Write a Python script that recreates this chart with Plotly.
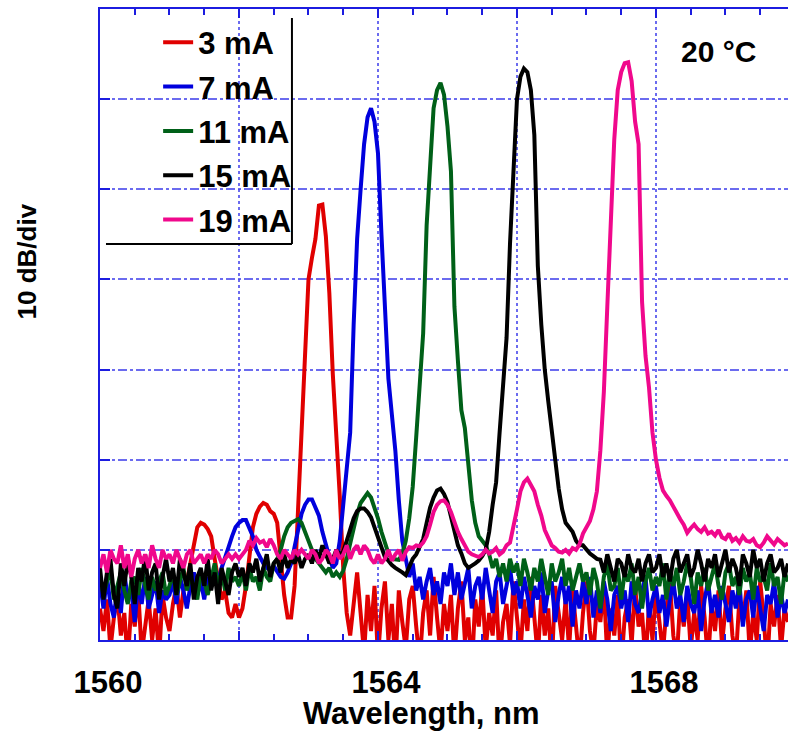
import plotly.graph_objects as go

# ---------------- data ----------------
WL_START = 1560.0
WL_STEP = 0.05
N_POINTS = 199
wavelength = [round(WL_START + WL_STEP * i, 2) for i in range(N_POINTS)]

series_names = ["3 mA", "7 mA", "11 mA", "15 mA", "19 mA"]
series_colors = ["#e00000", "#0000dd", "#006018", "#000000", "#f0088c"]

# relative power, dB (10 dB per grid division)
power_3mA = [
    3.5, 1.0, 4.5, -1.0, 2.5, 5.0, 0.5, 3.0, -2.5, 4.0, 1.5, 5.5, -1.5, 2.0, 4.5, 0.0, 3.5, -2.0, 5.0, 2.5,
    1.0, 4.0, 6.0, 2.5, 5.5, 6.5, 8.5, 11.0, 12.5, 13.0, 12.8, 12.3, 11.5, 9.0, 6.5, 4.5, 5.5, 3.0, 2.5, 4.0,
    2.5, 3.5, 6.0, 9.5, 12.5, 14.0, 14.8, 15.2, 15.0, 14.3, 14.0, 13.0, 9.0, 5.0, 2.5, 2.5, 6.0, 15.0, 24.0, 33.0,
    40.0, 42.4, 44.5, 48.2, 48.3, 44.8, 38.5, 29.5, 23.0, 16.0, 8.0, 3.0, 0.5, 4.5, 7.5, 3.0, -1.5, 5.0, 1.0, 6.0,
    -2.0, 3.5, 6.5, 0.0, 4.0, -3.0, 5.5, 2.0, -1.0, 4.5, 6.0, 1.5, -2.5, 3.0, 5.5, 0.5, 7.0, 2.5, -1.5, 4.0,
    1.0, 5.0, -2.0, 3.5, 6.5, 0.0, 2.5, -3.5, 4.5, 1.5, 6.0, -1.0, 3.0, 0.5, 5.5, -2.5, 2.0, 4.0, -0.5, 6.5,
    2.0, -1.5, 4.5, 1.0, 7.0, 3.0, -2.0, 5.0, 0.5, 3.5, -3.0, 6.0, 2.5, 0.0, 4.5, -1.0, 5.5, 1.5, -2.5, 3.0,
    6.5, 1.0, -1.5, 4.0, 2.0, 6.0, -2.0, 3.5, 0.5, 5.0, -3.0, 2.5, 4.5, -0.5, 6.0, 1.5, 3.0, -2.5, 4.0, 0.0,
    5.5, 2.0, -1.5, 3.5, 6.5, 0.5, -2.0, 4.5, 1.5, 5.0, -1.0, 3.0, 0.0, 6.0, 2.5, -2.5, 4.0, 1.0, 5.5, -0.5,
    3.5, 6.0, 0.5, -2.0, 4.5, 2.0, 5.5, -1.5, 3.0, 0.0, 6.5, 2.5, -3.0, 4.0, 1.5, 5.0, -1.0, 3.5, 2.0,
]

power_7mA = [
    6.5, 3.5, 7.0, 4.0, 2.5, 6.0, 3.0, 7.5, 4.5, 5.5, 2.0, 6.5, 4.0, 7.0, 3.5, 5.0, 6.5, 3.0, 5.5, 4.5,
    5.0, 6.5, 4.0, 7.0, 5.5, 3.5, 6.0, 7.5, 5.0, 6.5, 4.5, 7.0, 6.0, 7.5, 6.5, 8.0, 9.0, 10.3, 11.5, 12.5,
    13.0, 13.3, 13.3, 12.5, 11.5, 10.0, 9.2, 8.5, 8.0, 7.8, 8.2, 7.5, 7.0, 6.8, 7.5, 8.5, 10.3, 12.5, 14.0, 15.0,
    15.6, 15.6, 14.8, 13.8, 12.0, 10.5, 9.2, 8.0, 8.5, 11.0, 15.0, 18.5, 23.0, 35.0, 44.5, 50.0, 55.0, 58.0, 59.0, 57.5,
    54.0, 45.0, 37.0, 29.0, 25.0, 21.0, 15.5, 11.0, 9.0, 7.0, 8.5, 5.5, 7.0, 4.5, 6.5, 8.0, 5.0, 6.5, 4.0, 7.5,
    6.0, 8.5, 5.0, 7.5, 4.5, 6.5, 8.0, 3.5, 6.0, 7.0, 4.5, 8.0, 5.5, 3.0, 6.5, 7.5, 4.0, 6.0, 8.0, 5.0,
    6.5, 3.5, 7.0, 5.0, 2.5, 6.0, 4.5, 7.5, 3.0, 5.5, 6.5, 2.0, 5.0, 7.0, 4.0, 6.0, 1.5, 5.5, 3.5, 6.5,
    4.0, 7.0, 2.5, 5.5, 3.0, 6.5, 4.5, 1.0, 5.0, 6.0, 3.5, 5.5, 2.0, 6.5, 4.0, 3.0, 5.5, 7.0, 2.5, 4.5,
    6.0, 3.0, 5.0, 1.5, 4.5, 6.5, 3.5, 5.0, 2.0, 6.0, 4.0, 3.0, 5.5, 1.0, 4.5, 6.5, 3.0, 5.0, 2.5, 6.0,
    4.0, 2.0, 5.5, 3.5, 6.5, 1.5, 4.5, 5.5, 2.5, 6.0, 3.5, 1.0, 5.0, 4.0, 6.5, 2.5, 5.0, 3.0, 4.5,
]

power_11mA = [
    7.0, 5.0, 6.5, 8.0, 4.5, 6.0, 7.5, 5.5, 4.0, 6.5, 7.0, 5.0, 8.0, 6.0, 4.5, 7.0, 5.5, 6.5, 7.5, 5.0,
    6.0, 7.5, 5.0, 6.5, 8.0, 5.5, 7.0, 6.0, 4.5, 7.5, 6.5, 5.0, 7.0, 8.5, 6.0, 7.5, 5.5, 8.0, 6.5, 7.0,
    6.0, 7.5, 5.5, 8.0, 6.5, 7.0, 5.5, 8.0, 7.0, 6.5, 8.5, 9.0, 10.0, 11.5, 12.5, 13.0, 13.2, 13.4, 13.0, 12.0,
    11.0, 10.3, 9.0, 8.5, 8.0, 7.5, 8.0, 7.0, 7.5, 7.0, 7.7, 9.0, 10.7, 12.5, 14.0, 15.2, 15.8, 16.3, 15.8, 14.8,
    13.5, 12.0, 10.8, 9.6, 9.0, 8.9, 8.9, 9.5, 11.0, 13.5, 17.0, 22.5, 28.0, 34.0, 46.0, 53.5, 59.0, 61.0, 61.8, 60.5,
    57.0, 52.0, 37.0, 31.0, 25.5, 23.5, 19.0, 15.5, 13.0, 11.5, 11.0, 10.5, 9.5, 8.0, 9.0, 7.0, 8.5, 6.5, 9.0, 7.5,
    8.5, 6.0, 9.0, 7.5, 5.5, 8.0, 6.5, 9.0, 7.0, 5.0, 8.5, 6.5, 7.5, 9.0, 6.0, 8.0, 5.5, 7.0, 8.5, 6.5,
    7.5, 5.0, 8.0, 6.5, 3.5, 7.0, 8.5, 5.5, 6.0, 8.0, 4.5, 7.5, 6.5, 8.5, 5.0, 7.0, 3.5, 6.5, 8.0, 5.5,
    7.0, 6.0, 8.5, 4.5, 7.5, 6.0, 8.0, 5.0, 6.5, 8.5, 7.0, 4.0, 7.5, 6.0, 8.0, 5.5, 7.0, 8.5, 6.0, 4.5,
    7.5, 8.5, 6.0, 7.0, 5.0, 8.0, 6.5, 7.5, 4.5, 8.0, 6.5, 7.0, 5.5, 8.5, 6.0, 7.0, 4.0, 7.5, 6.5,
]

power_15mA = [
    8.0, 4.5, 7.5, 9.0, 5.0, 3.5, 8.5, 6.0, 9.0, 7.0, 4.0, 8.0, 6.5, 9.5, 5.5, 7.5, 8.5, 4.5, 7.0, 9.0,
    6.5, 8.0, 5.0, 9.0, 7.5, 6.0, 8.5, 4.5, 7.0, 8.0, 6.0, 9.0, 5.5, 7.5, 4.0, 8.0, 6.5, 5.0, 7.5, 8.5,
    7.0, 8.0, 6.0, 8.5, 7.5, 9.0, 6.5, 8.0, 9.5, 7.0, 8.5, 9.0, 7.5, 9.5, 8.0, 9.0, 8.5, 9.5, 8.0, 9.0,
    9.5, 8.5, 10.0, 9.0, 10.5, 9.5, 8.5, 9.0, 10.0, 9.5, 9.8, 11.0, 12.3, 13.5, 14.3, 14.6, 14.6, 14.2, 13.6, 12.5,
    11.2, 10.0, 9.2, 8.8, 8.3, 8.0, 7.8, 7.5, 7.2, 8.0, 9.0, 9.5, 10.5, 11.2, 13.0, 14.7, 15.8, 16.6, 16.8, 16.2,
    15.3, 13.8, 12.0, 10.5, 9.6, 8.5, 8.0, 8.2, 8.5, 8.8, 9.3, 10.0, 12.0, 15.0, 17.5, 23.0, 29.0, 33.5, 44.0, 53.0,
    60.0, 62.5, 63.4, 63.0, 61.0, 56.0, 41.5, 35.0, 30.0, 26.5, 23.0, 19.5, 16.8, 14.5, 13.0, 12.5, 12.0, 11.0, 10.5, 10.5,
    10.0, 9.6, 9.3, 9.0, 8.9, 7.5, 9.5, 8.0, 6.5, 9.0, 8.5, 7.0, 9.5, 8.0, 7.5, 9.0, 6.5, 8.5, 9.5, 7.5,
    8.0, 9.5, 7.0, 8.5, 6.5, 9.0, 10.0, 7.5, 8.5, 9.5, 7.0, 8.0, 10.0, 8.5, 6.5, 9.0, 8.0, 9.5, 7.0, 8.5,
    10.0, 7.5, 9.0, 8.0, 6.0, 9.5, 8.5, 7.0, 10.0, 8.0, 9.0, 6.5, 8.5, 9.5, 7.5, 8.0, 9.0, 7.0, 8.5,
]

power_19mA = [
    8.0, 9.5, 7.5, 10.0, 9.0, 8.5, 10.5, 8.0, 9.5, 7.0, 9.0, 10.0, 8.5, 9.5, 8.0, 10.5, 9.0, 8.0, 10.0, 9.0,
    9.5, 8.5, 10.0, 9.0, 8.0, 9.5, 10.0, 8.5, 9.0, 9.5, 8.5, 9.5, 9.0, 10.0, 9.5, 8.5, 9.0, 9.5, 9.0, 9.5,
    9.0, 9.5, 10.0, 11.0, 10.5, 11.3, 10.8, 11.0, 10.3, 11.2, 10.5, 9.5, 9.0, 10.0, 9.5, 9.0, 10.0, 9.5, 10.0, 9.5,
    9.0, 10.0, 9.5, 8.5, 9.0, 10.0, 9.5, 8.5, 10.0, 9.0, 9.5, 10.5, 9.0, 10.0, 10.5, 9.5, 10.5, 10.0, 9.0, 8.5,
    9.5, 8.5, 9.0, 10.0, 8.8, 9.5, 10.0, 8.8, 9.8, 10.3, 10.2, 10.5, 10.4, 10.8, 11.5, 12.8, 14.2, 15.0, 15.4, 15.5,
    15.0, 14.2, 13.0, 12.0, 11.2, 10.5, 9.8, 9.5, 9.3, 9.2, 9.5, 10.0, 9.6, 9.8, 10.2, 9.5, 9.8, 10.5, 10.8, 12.5,
    14.5, 16.5, 17.5, 17.9, 17.3, 16.5, 15.0, 13.8, 12.2, 11.2, 10.5, 10.2, 9.8, 9.7, 10.0, 9.6, 10.2, 10.0, 10.6, 11.8,
    12.5, 13.2, 14.5, 16.5, 21.0, 27.5, 37.0, 47.0, 55.5, 61.0, 63.0, 64.0, 64.1, 62.0, 57.5, 55.0, 37.5, 31.5, 28.0, 23.0,
    20.0, 18.0, 16.6, 16.0, 15.5, 14.8, 14.0, 13.4, 12.8, 11.9, 12.4, 12.8, 12.3, 12.0, 12.5, 11.8, 12.0, 11.6, 12.2, 11.4,
    11.2, 11.8, 11.0, 11.3, 10.8, 11.5, 11.0, 10.9, 11.2, 10.5, 10.3, 10.8, 11.5, 11.0, 10.6, 11.2, 10.9, 10.5, 10.7,
]

series_values = [power_3mA, power_7mA, power_11mA, power_15mA, power_19mA]

x_tick_values = [1560, 1562, 1564, 1566, 1568]
x_tick_text = ["1560", "", "1564", "", "1568"]
x_range = [1560.0, 1569.9]
y_range = [0, 70]

# ---------------- figure ----------------
FONT = "Liberation Sans, Arial, Helvetica, sans-serif"
AXIS_BLUE = "#1c1ce0"
GRID_BLUE = "rgba(70,70,235,0.8)"

fig = go.Figure()
for name, color, vals in zip(series_names, series_colors, series_values):
    fig.add_trace(go.Scatter(
        x=wavelength, y=vals, mode="lines", name=name,
        line=dict(color=color, width=4),
        legendgroup=name,
    ))

fig.update_layout(
    width=788, height=731,
    margin=dict(l=100, r=0, t=9, b=91),
    paper_bgcolor="white", plot_bgcolor="white",
    font=dict(family=FONT, color="black"),
    showlegend=True,
    legend=dict(
        x=0.0845, y=0.9895, xanchor="left", yanchor="top",
        bgcolor="rgba(255,255,255,0)", borderwidth=0,
        font=dict(size=31, family=FONT, weight="bold", color="black"),
        tracegroupgap=1, itemwidth=30,
    ),
)

fig.update_xaxes(
    range=x_range,
    tickmode="array", tickvals=x_tick_values, ticktext=x_tick_text,
    ticks="inside", ticklen=9, tickcolor=AXIS_BLUE, tickwidth=1.5,
    showline=True, linecolor=AXIS_BLUE, linewidth=2, mirror="ticks",
    showgrid=True, gridcolor=GRID_BLUE, gridwidth=1.5, griddash="dot",
    zeroline=False,
    tickfont=dict(size=31, family=FONT, weight="bold", color="black"),
    ticklabelstandoff=14, ticklabelshift=8,
    minor=dict(tickmode="linear", tick0=1560, dtick=0.5, ticks="inside",
               ticklen=6, tickcolor=AXIS_BLUE, tickwidth=1.5, showgrid=False),
)
fig.update_yaxes(
    range=y_range, dtick=10, tick0=0,
    showticklabels=False,
    ticks="inside", ticklen=10, tickcolor=AXIS_BLUE, tickwidth=1.5,
    showline=True, linecolor=AXIS_BLUE, linewidth=2, mirror=False,
    showgrid=True, gridcolor=GRID_BLUE, gridwidth=1.5, griddash="dashdot",
    zeroline=False,
)

# legend frame (right and bottom edges)
fig.add_shape(type="line", xref="paper", yref="paper",
              x0=0.279, x1=0.279, y0=0.6276, y1=0.9857,
              line=dict(color="black", width=2))
fig.add_shape(type="line", xref="paper", yref="paper",
              x0=0.0087, x1=0.279, y0=0.6276, y1=0.6276,
              line=dict(color="black", width=2))

# axis titles and temperature label
fig.add_annotation(text="Wavelength, nm", xref="paper", yref="paper",
                   x=0.4666, y=-0.116, xanchor="center", yanchor="middle",
                   showarrow=False,
                   font=dict(size=31, family=FONT, weight="bold", color="black"))
fig.add_annotation(text="10 dB/div", xref="paper", yref="paper",
                   x=-0.106, y=0.600, xanchor="center", yanchor="middle",
                   textangle=-90, showarrow=False,
                   font=dict(size=26, family=FONT, weight="bold", color="black"))
fig.add_annotation(text="20 °C", xref="paper", yref="paper",
                   x=0.8997, y=0.932, xanchor="center", yanchor="middle",
                   showarrow=False,
                   font=dict(size=30, family=FONT, weight="bold", color="black"))

fig.write_html(
    "out.html",
    config={"displayModeBar": False},
    post_script="document.body.style.margin='0';document.body.style.overflow='hidden';",
)
